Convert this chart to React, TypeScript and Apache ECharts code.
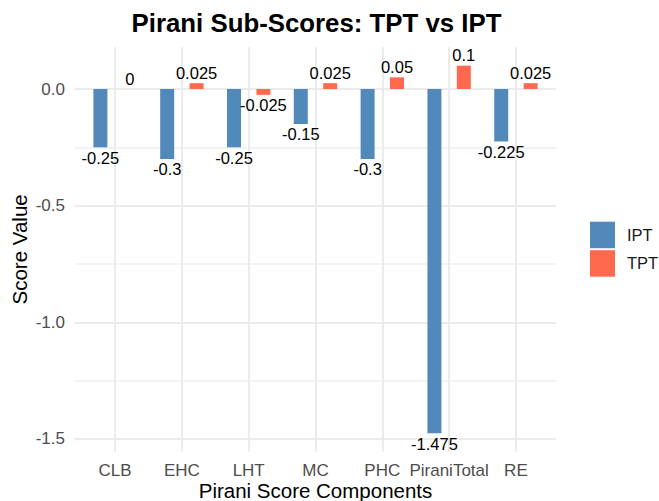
import React, { useEffect, useRef } from 'react';
import * as echarts from 'echarts';

const categories = ['CLB', 'EHC', 'LHT', 'MC', 'PHC', 'PiraniTotal', 'RE'];
const iptValues = [-0.25, -0.3, -0.25, -0.15, -0.3, -1.475, -0.225];
const tptValues = [0, 0.025, -0.025, 0.025, 0.05, 0.1, 0.025];
const seriesNames = ['IPT', 'TPT'];
const seriesColors = ['#5189BB', '#FF6A4F'];
const yMajorTicks = [-1.5, -1.0, -0.5, 0.0];
const yMinorTicks = [-1.25, -0.75, -0.25];

const FONT = 'Liberation Sans, Arial, sans-serif';

export default function App() {
  const ref = useRef<HTMLDivElement>(null);

  useEffect(() => {
    if (!ref.current) return;
    const chart = echarts.init(ref.current, undefined, { renderer: 'svg' });

    const all = [...iptValues, ...tptValues, 0];
    const lo = Math.min(...all);
    const hi = Math.max(...all);
    const pad = (hi - lo) * 0.05;
    const yMin = lo - pad;
    const yMax = hi + pad;
    const xMin = 1 - 0.6;
    const xMax = categories.length + 0.6;
    const xTicks = categories.map((_, i) => i + 1);

    const mkSeries = (name: string, values: number[], color: string) => ({
      name,
      type: 'bar',
      barWidth: 14,
      barGap: '110%',
      itemStyle: { color },
      data: values.map((v, i) => ({
        value: [i + 1, v],
        label: { position: v >= 0 ? 'top' : 'bottom' },
      })),
      label: {
        show: true,
        distance: 2,
        color: '#000',
        fontFamily: FONT,
        fontSize: 16.5,
        formatter: (p: any) => String(p.value[1]),
      },
    });

    chart.setOption({
      animation: false,
      backgroundColor: '#fff',
      textStyle: { fontFamily: FONT },
      graphic: [
        {
          type: 'text',
          x: 316.5,
          y: 23,
          style: {
            text: 'Pirani Sub-Scores: TPT vs IPT',
            fontFamily: FONT,
            fontWeight: 'bold',
            fontSize: 25.8,
            fill: '#000',
            textAlign: 'center',
            textVerticalAlign: 'middle',
            verticalAlign: 'middle',
          },
        },
      ],
      grid: {
        left: 75,
        right: 103,
        top: 47.3,
        bottom: 49.5,
        containLabel: false,
        outerBoundsMode: 'none',
      },
      legend: {
        data: seriesNames,
        orient: 'vertical',
        left: 590,
        top: 221.7,
        padding: 0,
        itemWidth: 25,
        itemHeight: 26.5,
        itemGap: 2,
        icon: 'rect',
        textStyle: { fontFamily: FONT, fontSize: 16.5, color: '#1a1a1a', padding: [0, 0, 0, 7] },
      },
      xAxis: {
        type: 'value',
        min: xMin,
        max: xMax,
        name: 'Pirani Score Components',
        nameLocation: 'middle',
        nameGap: 28,
        nameMoveOverlap: false,
        nameTextStyle: { fontFamily: FONT, fontSize: 20.5, color: '#000' },
        axisLine: { show: false },
        axisTick: { show: false, customValues: xTicks },
        axisLabel: {
          customValues: xTicks,
          margin: 10.5,
          color: '#4D4D4D',
          fontFamily: FONT,
          fontSize: 17,
          formatter: (v: number) => categories[Math.round(v) - 1] ?? '',
        },
        splitLine: { show: true, lineStyle: { color: '#EBEBEB', width: 2 } },
      },
      yAxis: [
        {
          type: 'value',
          min: yMin,
          max: yMax,
          name: 'Score Value',
          nameLocation: 'middle',
          nameGap: 45,
          nameMoveOverlap: false,
          nameRotate: 90,
          nameTextStyle: { fontFamily: FONT, fontSize: 20.5, color: '#000' },
          axisLine: { show: false },
          axisTick: { show: false, customValues: yMajorTicks },
          axisLabel: {
            customValues: yMajorTicks,
            margin: 10,
            color: '#4D4D4D',
            fontFamily: FONT,
            fontSize: 17,
            formatter: (v: number) => v.toFixed(1),
          },
          splitLine: { show: true, lineStyle: { color: '#EBEBEB', width: 2 } },
        },
        {
          type: 'value',
          min: yMin,
          max: yMax,
          position: 'left',
          axisLine: { show: false },
          axisTick: { show: false, customValues: yMinorTicks },
          axisLabel: { show: false, customValues: yMinorTicks },
          splitLine: { show: true, lineStyle: { color: '#EFEFEF', width: 1.6 } },
        },
      ],
      series: [
        mkSeries(seriesNames[0], iptValues, seriesColors[0]),
        mkSeries(seriesNames[1], tptValues, seriesColors[1]),
      ],
    });

    return () => chart.dispose();
  }, []);

  return (
    <div
      ref={ref}
      style={{ position: 'fixed', left: 0, top: 0, width: 659, height: 501, background: '#fff' }}
    />
  );
}
